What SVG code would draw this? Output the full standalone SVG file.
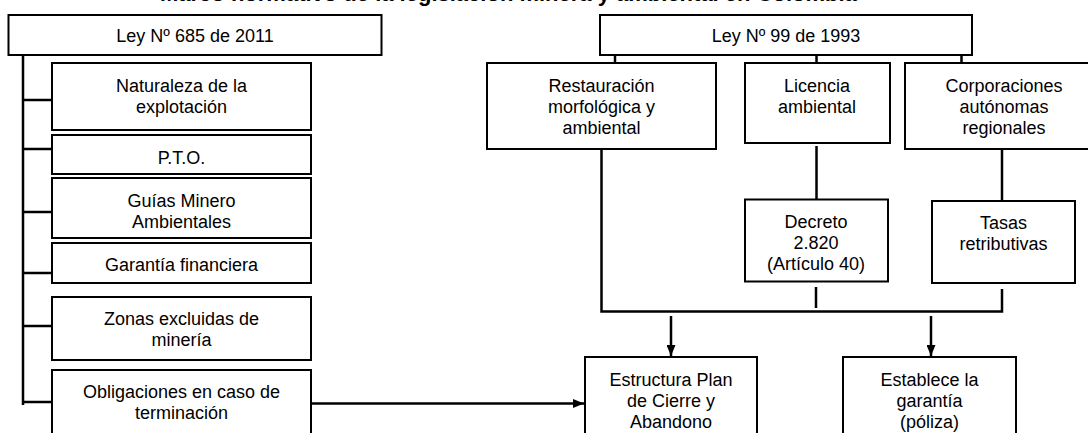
<svg xmlns="http://www.w3.org/2000/svg" width="1088" height="433" viewBox="0 0 1088 433">
  <style>
    .box { fill: #ffffff; stroke: #000000; stroke-width: 2; }
    .lbl { font-family: "Liberation Sans", Arial, sans-serif; font-size: 18px; fill: #000000; text-anchor: middle; }
    .title { font-family: "Liberation Sans", Arial, sans-serif; font-size: 22px; font-weight: bold; fill: #000000; }
    .wire { fill: none; stroke: #000000; stroke-width: 2.5; }
    .arrow { fill: none; stroke: #000000; stroke-width: 2.5; marker-end: url(#head); }
  </style>
  <defs>
    <marker id="head" markerUnits="userSpaceOnUse" markerWidth="11" markerHeight="9" refX="11" refY="4.5" orient="auto">
      <path d="M0,0 L11,4.5 L0,9 z" fill="#000000"/>
    </marker>
  </defs>
  <rect width="1088" height="433" fill="#ffffff"/>

  <!-- heading, clipped by the top edge -->
  <text class="title" x="160" y="1">Marco normativo de la legislación minera y ambiental en Colombia</text>

  <!-- connectors -->
  <g id="connectors">
    <!-- left spine and branches -->
    <path class="wire" d="M23,55 V405"/>
    <path class="wire" d="M22,100 H52 M22,149 H52 M22,212 H52 M22,273 H52 M22,326 H52 M22,402 H52"/>
    <!-- Ley 99 to its three children -->
    <path class="wire" d="M615,55 V63 M816.5,55 V63 M961.5,55 V63"/>
    <!-- children to second level -->
    <path class="wire" d="M816.5,146 V199"/>
    <path class="wire" d="M1002,147 V201"/>
    <!-- bracket gathering into the bottom row -->
    <path class="wire" d="M601.5,149 V311.5 H1002 V289"/>
    <path class="wire" d="M816,287 V308"/>
    <path class="arrow" d="M671,316 V356"/>
    <path class="arrow" d="M931,316 V356"/>
    <!-- Obligaciones to Estructura Plan -->
    <path class="arrow" d="M311,403.5 H584"/>
  </g>

  <!-- Ley 685 branch -->
  <g id="ley685">
    <rect class="box" x="8.5" y="15" width="373" height="40"/>
    <text class="lbl" x="195" y="42">Ley Nº 685 de 2011</text>
  </g>
  <g id="naturaleza">
    <rect class="box" x="52" y="63" width="259" height="67"/>
    <text class="lbl" x="181.5" y="92">Naturaleza de la</text>
    <text class="lbl" x="181.5" y="113">explotación</text>
  </g>
  <g id="pto">
    <rect class="box" x="52" y="135" width="259" height="39"/>
    <text class="lbl" x="181.5" y="164">P.T.O.</text>
  </g>
  <g id="guias">
    <rect class="box" x="52" y="178" width="259" height="60"/>
    <text class="lbl" x="181.5" y="207">Guías Minero</text>
    <text class="lbl" x="181.5" y="228">Ambientales</text>
  </g>
  <g id="garantia">
    <rect class="box" x="52" y="243" width="259" height="40"/>
    <text class="lbl" x="181.5" y="271">Garantía financiera</text>
  </g>
  <g id="zonas">
    <rect class="box" x="52" y="297" width="259" height="63"/>
    <text class="lbl" x="181.5" y="325">Zonas excluidas de</text>
    <text class="lbl" x="181.5" y="346">minería</text>
  </g>
  <g id="obligaciones">
    <rect class="box" x="52" y="370" width="259" height="80"/>
    <text class="lbl" x="181.5" y="398">Obligaciones en caso de</text>
    <text class="lbl" x="181.5" y="419">terminación</text>
  </g>

  <!-- Ley 99 branch -->
  <g id="ley99">
    <rect class="box" x="600" y="15" width="372" height="40"/>
    <text class="lbl" x="786" y="42">Ley Nº 99 de 1993</text>
  </g>
  <g id="restauracion">
    <rect class="box" x="487" y="63" width="229" height="86"/>
    <text class="lbl" x="601.5" y="92">Restauración</text>
    <text class="lbl" x="601.5" y="113">morfológica y</text>
    <text class="lbl" x="601.5" y="134">ambiental</text>
  </g>
  <g id="licencia">
    <rect class="box" x="745" y="63" width="145" height="80"/>
    <text class="lbl" x="817" y="92">Licencia</text>
    <text class="lbl" x="817" y="113">ambiental</text>
  </g>
  <g id="corporaciones">
    <rect class="box" x="905" y="63" width="200" height="86"/>
    <text class="lbl" x="1004" y="92">Corporaciones</text>
    <text class="lbl" x="1004" y="113">autónomas</text>
    <text class="lbl" x="1004" y="134">regionales</text>
  </g>
  <g id="decreto">
    <rect class="box" x="745" y="199.5" width="143" height="82"/>
    <text class="lbl" x="816" y="228">Decreto</text>
    <text class="lbl" x="816" y="249">2.820</text>
    <text class="lbl" x="816" y="270">(Artículo 40)</text>
  </g>
  <g id="tasas">
    <rect class="box" x="932" y="201" width="143" height="82"/>
    <text class="lbl" x="1003.5" y="229">Tasas</text>
    <text class="lbl" x="1003.5" y="250">retributivas</text>
  </g>
  <g id="estructura">
    <rect class="box" x="585" y="357" width="172" height="90"/>
    <text class="lbl" x="671" y="386">Estructura Plan</text>
    <text class="lbl" x="671" y="407">de Cierre y</text>
    <text class="lbl" x="671" y="428">Abandono</text>
  </g>
  <g id="establece">
    <rect class="box" x="843" y="357" width="173" height="90"/>
    <text class="lbl" x="929.5" y="386">Establece la</text>
    <text class="lbl" x="929.5" y="407">garantía</text>
    <text class="lbl" x="929.5" y="428">(póliza)</text>
  </g>
</svg>
